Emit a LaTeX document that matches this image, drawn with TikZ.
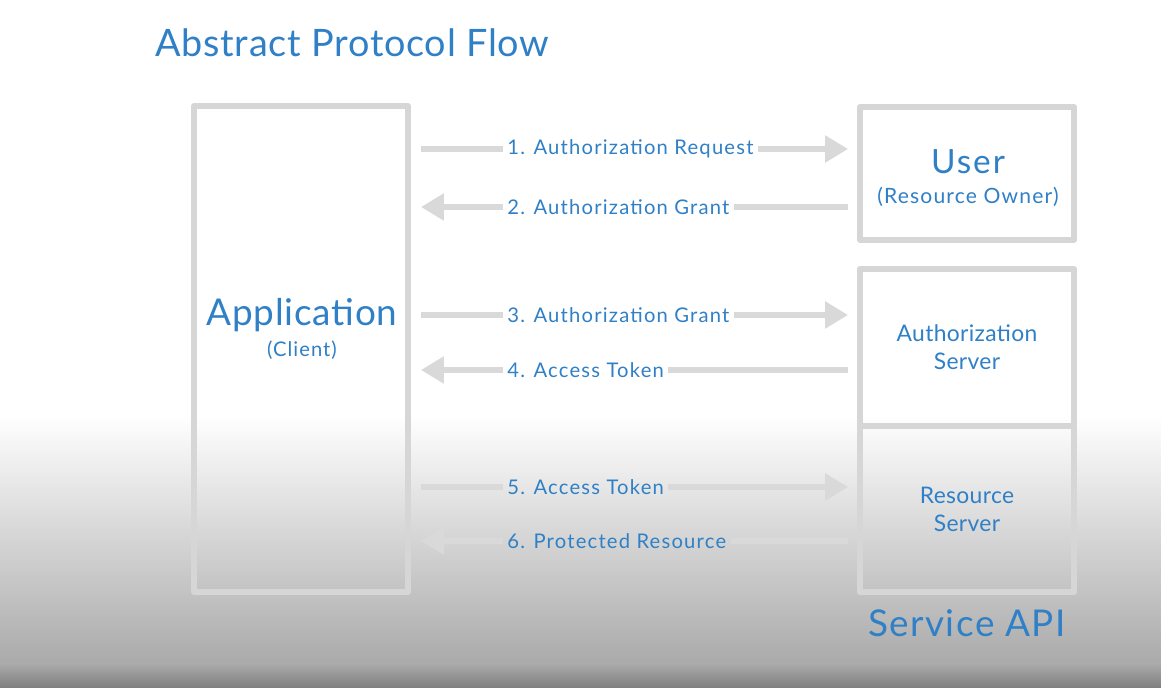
\documentclass[tikz,border=0pt]{standalone}
\usepackage{fontspec}
\setmainfont{Lato}
\usetikzlibrary{positioning, arrows.meta, calc}
\definecolor{oblue}{HTML}{2F80C6}
\definecolor{frame}{HTML}{D6D6D6}
\definecolor{flowgray}{HTML}{D9D9D9}
\definecolor{fadegray}{HTML}{AAAAAA}
\definecolor{bandgray}{HTML}{7E7E7E}
\newcommand{\track}[1]{\addfontfeature{LetterSpace=#1}}
\tikzset{
  box/.style     = {rectangle, draw=frame, line width=0.12cm, line join=round,
                    inner sep=0pt, minimum width=4.28cm, align=center, text=oblue},
  server/.style  = {box, font=\fontsize{13}{16}\selectfont\track{1.5}},
  msg/.style     = {anchor=west, inner xsep=0.08cm, inner ysep=1pt, text=oblue,
                    font=\fontsize{11.5}{13}\selectfont\track{6}},
  flow/.style    = {draw=flowgray, line width=0.11cm},
  flowhead/.style= {flow, -{Triangle[length=0.46cm, width=0.52cm]}},
}

\begin{document}
\begin{tikzpicture}[x=0.02cm, y=-0.02cm]

  % page and fading floor
  \fill[white] (0,0) rectangle (1161,688);
  \shade[top color=white, bottom color=fadegray] (0,415) rectangle (1161,664);
  \shade[top color=fadegray, bottom color=bandgray] (0,664) rectangle (1161,688);

  % title
  \node[anchor=west, text=oblue, font=\fontsize{21.5}{24}\selectfont\track{2}, inner sep=0pt] (title) at (155,43) {Abstract Protocol Flow};

  % client
  \node[box, minimum height=9.72cm] (app) at (301,349) {};
  \node[text=oblue, align=center, inner sep=0pt] (appname) at (302,329)
       {{\fontsize{21}{22}\selectfont\track{2}Application}\\[4pt]{\fontsize{11.5}{12}\selectfont\track{5}(Client)}};

  % user
  \node[box, minimum height=2.66cm] (user) at (967,173.5) {};
  \node[text=oblue, align=center, inner sep=0pt] (username) at (968,178)
       {{\fontsize{19}{20}\selectfont\track{6}User}\\[5pt]{\fontsize{12}{14}\selectfont\track{5.5}(Resource Owner)}};

  % service api
  \node[server, minimum height=3.14cm] (auth) at (967,347.5) {Authorization\\Server};
  \node[server, minimum height=3.32cm] (res) at (967,509) {Resource\\Server};
  \node[below=0.28cm of res, text=oblue, font=\fontsize{21}{24}\selectfont\track{4}, inner sep=0pt] (api) {Service API};

  % messages
  \node[msg] (m1) at (503,149) {1. Authorization Request};
  \node[msg] (m2) at (503,207) {2. Authorization Grant};
  \node[msg] (m3) at (503,315) {3. Authorization Grant};
  \node[msg] (m4) at (503,370) {4. Access Token};
  \node[msg] (m5) at (503,487) {5. Access Token};
  \node[msg] (m6) at (503,541) {6. Protected Resource};

  \draw[flow] ($(app.east |- m1)+(10,0)$) -- (m1.west);
  \draw[flowhead] (m1.east) -- ($(user.west |- m1)+(-9,0)$);
  \draw[flowhead] (m2.west) -- ($(app.east |- m2)+(10,0)$);
  \draw[flow] (m2.east) -- ($(user.west |- m2)+(-9,0)$);

  \draw[flow] ($(app.east |- m3)+(10,0)$) -- (m3.west);
  \draw[flowhead] (m3.east) -- ($(auth.west |- m3)+(-9,0)$);
  \draw[flowhead] (m4.west) -- ($(app.east |- m4)+(10,0)$);
  \draw[flow] (m4.east) -- ($(auth.west |- m4)+(-9,0)$);

  \draw[flow] ($(app.east |- m5)+(10,0)$) -- (m5.west);
  \draw[flowhead] (m5.east) -- ($(res.west |- m5)+(-9,0)$);
  \draw[flowhead] (m6.west) -- ($(app.east |- m6)+(10,0)$);
  \draw[flow] (m6.east) -- ($(res.west |- m6)+(-9,0)$);

\end{tikzpicture}
\end{document}
